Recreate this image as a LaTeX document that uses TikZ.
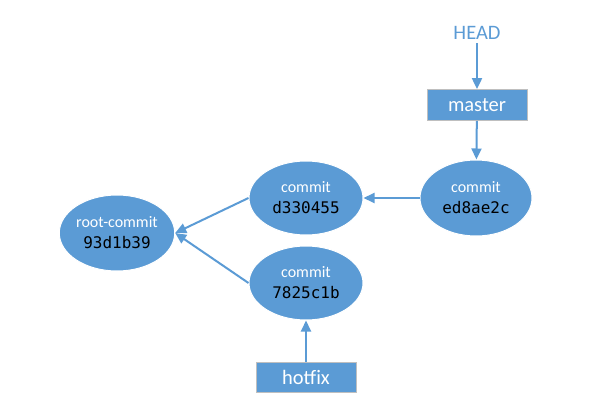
\documentclass[tikz,border=0pt]{standalone}
\usepackage{fontspec}
\setmainfont{Carlito}
\newfontfamily\hashfont{DejaVu Sans Mono}
\usepackage{tikz}
\usetikzlibrary{shapes.geometric,arrows.meta}
\definecolor{gitblue}{HTML}{5B9BD5}
\definecolor{boxgray}{HTML}{BFBFBF}
\tikzstyle{commitnode} = [ellipse, fill=gitblue, draw=white, line width=1pt, inner sep=0pt, minimum width=114pt, minimum height=74pt, align=center, font=\fontsize{16}{21}\selectfont]
\tikzstyle{branchbox} = [rectangle, fill=gitblue, draw=boxgray, line width=0.8pt, minimum width=100pt, minimum height=31pt, inner sep=0pt, text=white, font=\fontsize{20.5}{24}\selectfont]
\tikzstyle{pointer} = [draw=gitblue, line width=2pt, -{Triangle[length=11pt,width=10pt]}]
\newcommand{\commitlabel}[2]{\textcolor{white}{#1}\\{\hashfont\fontsize{16}{21}\selectfont #2}}

\begin{document}
\begin{tikzpicture}[x=1pt,y=-1pt]
	\useasboundingbox (0,0) rectangle (589,415);
	% commits
	\node[commitnode, minimum width=110pt, minimum height=76pt] (root) at (117,233) {\commitlabel{root-commit}{93d1b39}};
	\node[commitnode] (c1) at (306,198) {\commitlabel{commit}{d330455}};
	\node[commitnode, minimum width=112pt, minimum height=76pt] (c2) at (476,198) {\commitlabel{commit}{ed8ae2c}};
	\node[commitnode] (fix) at (306,283) {\commitlabel{commit}{7825c1b}};
	% branches
	\node[branchbox] (master) at (477,105) {master};
	\node[branchbox, minimum height=30pt] (hotfix) at (306,377) {hotfix};
	\node[text=gitblue, font=\fontsize{20.5}{24}\selectfont] (head) at (477,33) {HEAD};
	% pointers
	\draw[pointer] (head) -- (master);
	\draw[pointer] (master) -- (c2);
	\draw[pointer] (c2) -- (c1);
	\draw[pointer] (c1.west) -- (root.east);
	\draw[pointer] (fix.west) -- (root.east);
	\draw[pointer] (hotfix) -- (fix);
\end{tikzpicture}
\end{document}
